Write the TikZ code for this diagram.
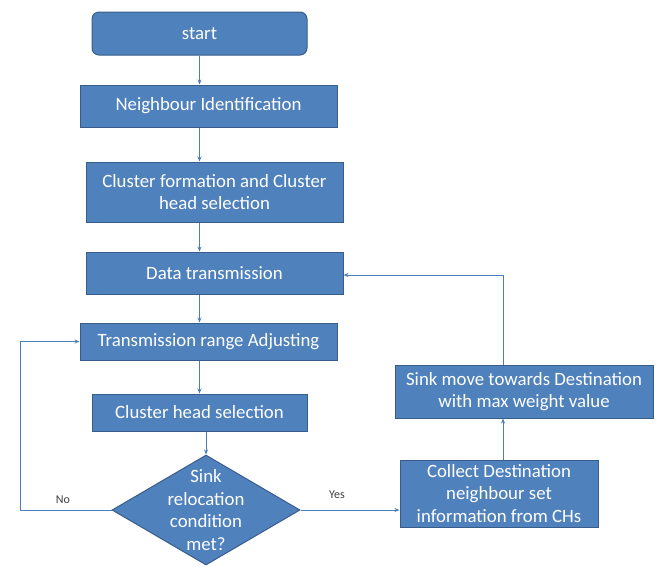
\documentclass[tikz,border=0pt]{standalone}
\usepackage{fontspec}
\setmainfont{Carlito}
\usetikzlibrary{shapes.geometric,arrows.meta}
\definecolor{boxfill}{HTML}{4F81BD}
\definecolor{boxline}{HTML}{385D8A}
\definecolor{arrcol}{HTML}{4A7EBB}
\begin{document}
\begin{tikzpicture}[x=1pt,y=-1pt,
  box/.style={draw=boxline,line width=1pt,fill=boxfill,text=white,align=center,
    inner sep=2pt,font=\fontsize{18.8}{22.5}\selectfont},
  dec/.style={diamond,draw=boxline,line width=1pt,fill=boxfill,inner sep=0pt},
  arr/.style={draw=arrcol,line width=0.8pt,-{Stealth[length=5pt,width=4pt]}},
  lbl/.style={text=black!75,font=\fontsize{12}{14}\selectfont}]
\useasboundingbox (0,0) rectangle (660,566);
\node[box,rounded corners=7pt,minimum width=215pt,minimum height=43pt] (start) at (199.5,33.5) {start};
\node[box,minimum width=257pt,minimum height=42pt] (neigh) at (208.5,106) {Neighbour Identification};
\node[box,minimum width=257pt,minimum height=60pt] (clus) at (214.5,192) {Cluster formation and Cluster\\head selection};
\node[box,minimum width=257pt,minimum height=42pt] (data) at (214.5,273) {Data transmission};
\node[box,minimum width=257pt,minimum height=37pt] (trans) at (208.5,341.5) {Transmission range Adjusting};
\node[box,minimum width=215pt,minimum height=37pt] (chs) at (199.5,412.5) {Cluster head selection};
\node[dec,minimum width=188pt,minimum height=110pt] (dec) at (206,510) {};
\node[text=white,align=center,font=\fontsize{18.8}{22.5}\selectfont] (dectext) at (dec.center) {Sink\\relocation\\condition\\met?};
\node[box,minimum width=198pt,minimum height=67pt] (col) at (499,493.5) {Collect Destination\\neighbour set\\information from CHs};
\node[box,minimum width=258pt,minimum height=53pt] (sink) at (524,391.5) {Sink move towards Destination\\with max weight value};
\coordinate (nocorner) at (20,510);
\coordinate (backx) at (503,275);
\draw[arr] (start.south) -- (start.south |- neigh.north);
\draw[arr] (neigh.south -| start.south) -- (start.south |- clus.north);
\draw[arr] (clus.south -| start.south) -- (start.south |- data.north);
\draw[arr] (data.south -| start.south) -- (start.south |- trans.north);
\draw[arr] (trans.south -| start.south) -- (start.south |- chs.north);
\draw[arr] (chs.south -| dec.north) -- (dec.north);
\draw[arr] (dec.west) -- (nocorner) |- (trans.west);
\draw[arr] (dec.east) -- (dec.east -| col.west);
\draw[arr] (col.north -| backx) -- (backx |- sink.south);
\draw[arr] (backx |- sink.north) -- (backx) -- (backx -| data.east);
\node[lbl] (no) at (63,500) {No};
\node[lbl] (yes) at (337,495) {Yes};
\end{tikzpicture}
\end{document}
